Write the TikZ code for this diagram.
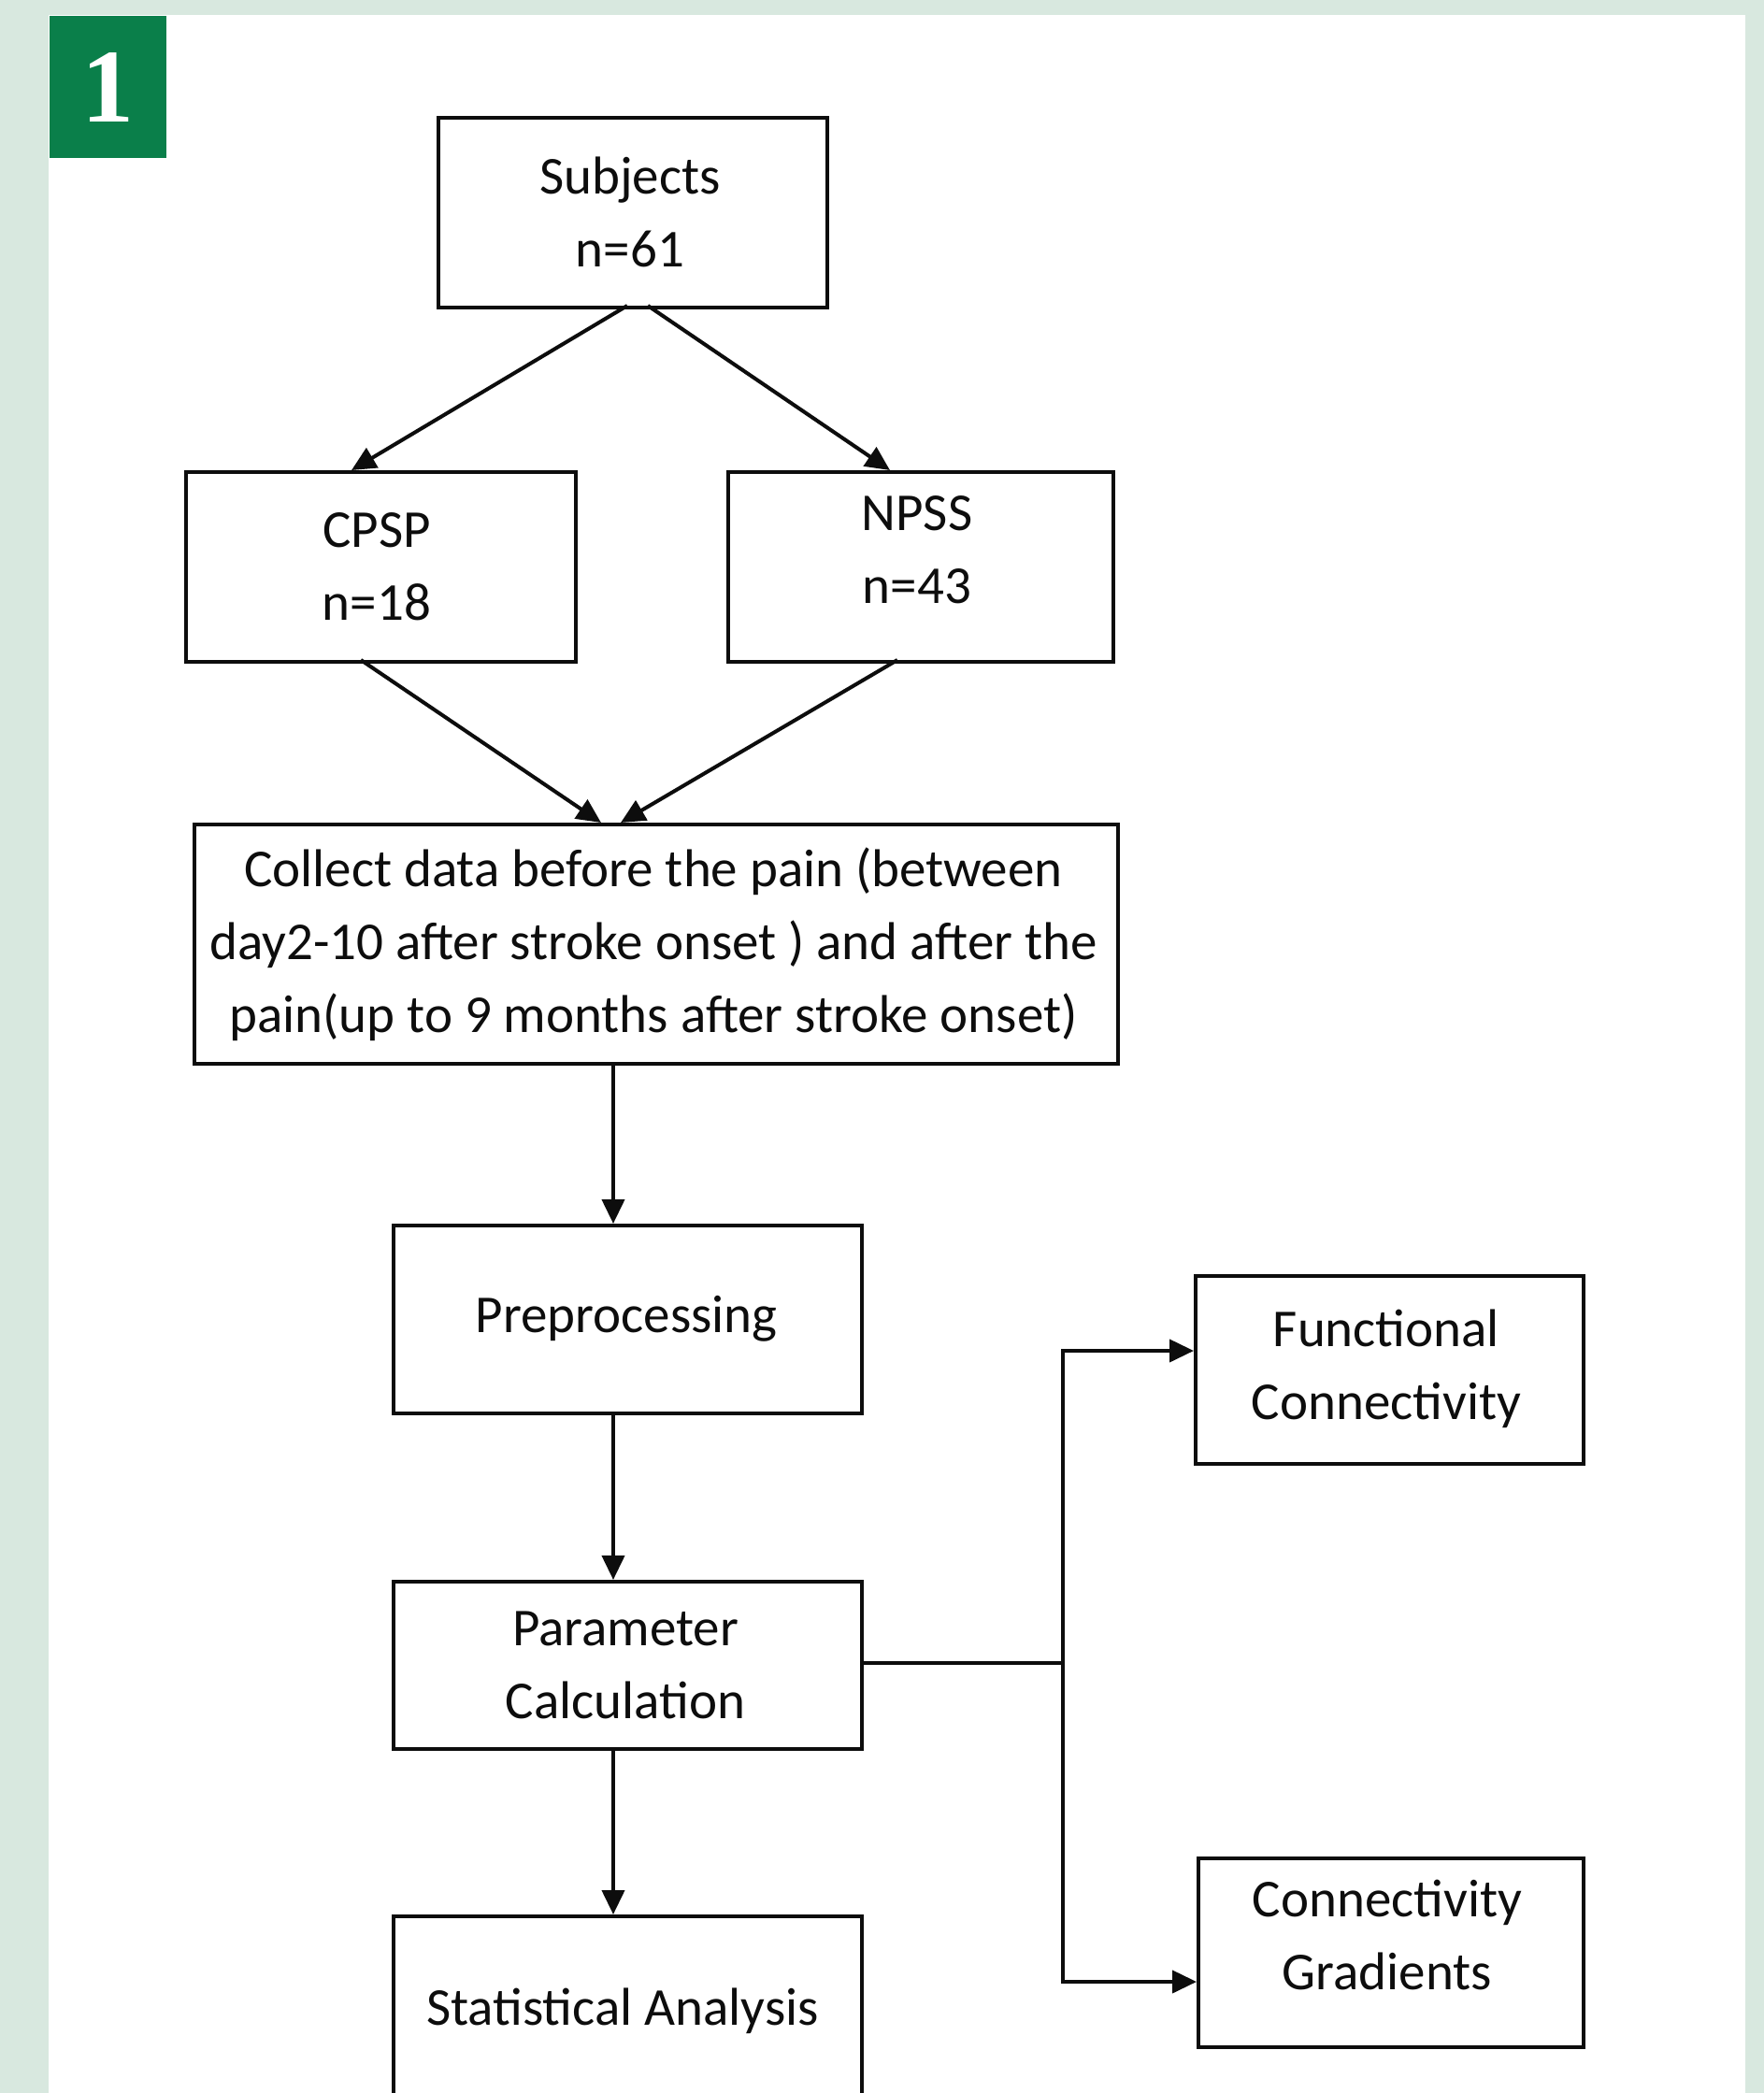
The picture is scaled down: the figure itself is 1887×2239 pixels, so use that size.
\documentclass[tikz,border=0pt]{standalone}
\usepackage{fontspec}
\setmainfont{Carlito}
\newfontfamily\badgefont{Liberation Serif}
\usetikzlibrary{arrows.meta}
\definecolor{bgpanel}{HTML}{D8E8DF}
\definecolor{badgegreen}{HTML}{0A7F4A}
\definecolor{inkc}{HTML}{0D0D0D}
\tikzset{
  boxc/.style={draw=inkc, line width=4pt, inner sep=0pt, anchor=north west},
  lbl/.style={align=center, text=inkc, font=\fontsize{57}{78}\selectfont, inner sep=0pt},
  conn/.style={draw=inkc, line width=4pt, -{Triangle[length=26pt,width=24pt]}},
  plainc/.style={draw=inkc, line width=4pt},
}
\begin{document}
\begin{tikzpicture}[x=1pt,y=-1pt]
\useasboundingbox (0,0) rectangle (1887,2239);
\fill[bgpanel] (0,0) rectangle (1887,2239);
\fill[white] (52,16) rectangle (1867,2239);
% badge
\fill[badgegreen] (53,17) rectangle (178,169);
\node[text=white, font=\badgefont\bfseries\fontsize{112}{112}\selectfont, inner sep=0pt] (badge) at (115,94) {1};
% boxes
\node[boxc, minimum width=416pt, minimum height=203pt] (subj) at (467,124) {};
\node[boxc, minimum width=417pt, minimum height=203pt] (cpsp) at (197,503) {};
\node[boxc, minimum width=412pt, minimum height=203pt] (npss) at (777,503) {};
\node[boxc, minimum width=988pt, minimum height=256pt] (coll) at (206,880) {};
\node[boxc, minimum width=501pt, minimum height=201pt] (prep) at (419,1309) {};
\node[boxc, minimum width=501pt, minimum height=179pt] (param) at (419,1690) {};
\node[boxc, minimum width=501pt, minimum height=300pt] (stat) at (419,2048) {};
\node[boxc, minimum width=415pt, minimum height=201pt] (func) at (1277,1363) {};
\node[boxc, minimum width=412pt, minimum height=202pt] (grad) at (1280,1986) {};
% labels
\node[lbl] (tsubj) at (674,227) {Subjects\\n=61};
\node[lbl] (tcpsp) at (403,606) {CPSP\\n=18};
\node[lbl] (tnpss) at (981,588) {NPSS\\n=43};
\node[lbl] (tcoll) at (699,1010) {Collect data before the pain (between\\day2-10 after stroke onset ) and after the\\pain(up to 9 months after stroke onset)};
\node[lbl] (tprep) at (670,1411) {Preprocessing};
\node[lbl] (tparam) at (669,1781) {Parameter\\Calculation};
\node[lbl] (tstat) at (666,2151) {Statistical Analysis};
\node[lbl] (tfunc) at (1483,1464) {Functional\\Connectivity};
\node[lbl] (tgrad) at (1484,2070) {Connectivity\\Gradients};
% connector points
\coordinate (s1) at (671,327);
\coordinate (s2) at (693,327);
\coordinate (c1) at (376,503);
\coordinate (n1) at (952,503);
\coordinate (c2) at (386,706);
\coordinate (n2) at (960,706);
\coordinate (m1) at (643,880);
\coordinate (m2) at (664,880);
\coordinate (v1) at (656,1136);
\coordinate (v2) at (656,1309);
\coordinate (v3) at (656,1510);
\coordinate (v4) at (656,1690);
\coordinate (v5) at (656,1869);
\coordinate (v6) at (656,2048);
\coordinate (pr) at (920,1779);
\coordinate (jn) at (1137,1779);
\coordinate (jt) at (1137,1445);
\coordinate (jb) at (1137,2120);
\coordinate (ft) at (1277,1445);
\coordinate (gt) at (1280,2120);
\draw[conn] (s1) -- (c1);
\draw[conn] (s2) -- (n1);
\draw[conn] (c2) -- (m1);
\draw[conn] (n2) -- (m2);
\draw[conn] (v1) -- (v2);
\draw[conn] (v3) -- (v4);
\draw[conn] (v5) -- (v6);
\draw[plainc] (pr) -- (jn);
\draw[conn] (jn) -- (jt) -- (ft);
\draw[conn] (jn) -- (jb) -- (gt);
\end{tikzpicture}
\end{document}
